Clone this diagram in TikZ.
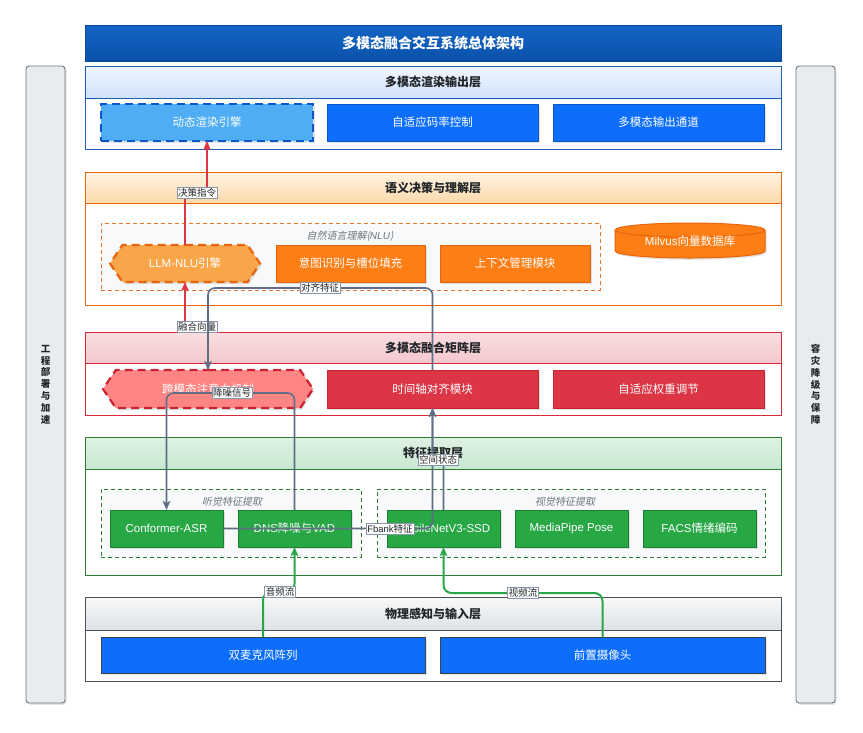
\documentclass[tikz,border=0pt]{standalone}
\usepackage{fontspec}
\setmainfont{Noto Sans CJK SC}
\newfontfamily\lat{Liberation Sans}
\newfontfamily\latit{Liberation Sans Italic}
\newfontfamily\cjkit{Noto Sans CJK SC}[FakeSlant=0.2]
\usetikzlibrary{shapes.symbols,shadows,arrows.meta}
\definecolor{ttop}{HTML}{1464C6}
\definecolor{tbot}{HTML}{0A52AA}
\definecolor{tbor}{HTML}{0A4A9A}
\definecolor{bl}{HTML}{0D6EFD}
\definecolor{blb}{HTML}{0A58CA}
\definecolor{lbl}{HTML}{4FADF5}
\definecolor{blc}{HTML}{1A5FB4}
\definecolor{org}{HTML}{FD7E14}
\definecolor{orgb}{HTML}{E8650F}
\definecolor{lorg}{HTML}{F9A64B}
\definecolor{rd}{HTML}{DC3545}
\definecolor{rdb}{HTML}{C82333}
\definecolor{lrd}{HTML}{FF8585}
\definecolor{rdc}{HTML}{D92B37}
\definecolor{gr}{HTML}{28A745}
\definecolor{grb}{HTML}{1E7E34}
\definecolor{grc}{HTML}{2E7D32}
\definecolor{gy}{HTML}{495057}
\definecolor{gyd}{HTML}{3A4350}
\definecolor{side}{HTML}{E9ECEF}
\definecolor{sideb}{HTML}{6C757D}
\definecolor{ln}{HTML}{5F6E84}
\definecolor{grp}{HTML}{F8F9FA}
\definecolor{txt}{HTML}{212529}
\definecolor{labb}{HTML}{8A96A8}
\begin{document}
\begin{tikzpicture}[x=1pt,y=-1pt,
  every node/.style={inner sep=0pt, outer sep=0pt},
  sh/.style={drop shadow={opacity=0.22, shadow xshift=1.6pt, shadow yshift=-1.8pt}},
  box/.style={draw, line width=1pt, text=white, sh, minimum height=37pt,
    font=\fontsize{11.5}{13}\selectfont},
  dbox/.style={box, line width=2.2pt, dash pattern=on 8pt off 5pt},
  hexa/.style={signal, signal to=east and west, signal pointer angle=112},
  layer/.style={draw, line width=1pt, fill=white, minimum width=696pt},
  head/.style={draw, line width=1pt, minimum width=696pt, text=txt,
    font=\fontsize{12}{14}\selectfont\bfseries},
  grpbox/.style={draw, line width=0.9pt, fill=grp, dash pattern=on 4pt off 3pt},
  grplab/.style={text=sideb, font=\fontsize{10}{12}\cjkit},
  sidebar/.style={draw=sideb, fill=side, line width=0.9pt, rounded corners=3pt, sh,
    minimum width=39pt, minimum height=637pt},
  sidetxt/.style={align=center, text=txt, font=\fontsize{9.5}{11.8}\selectfont\bfseries},
  redln/.style={draw=rd, line width=1.5pt, -{Stealth[length=9pt,width=7.5pt,inset=2pt]}},
  grayln/.style={draw=ln, line width=1.6pt, rounded corners=7pt, -{Stealth[length=9pt,width=7.5pt,inset=2pt]}},
  greenln/.style={draw=gr, line width=2pt, rounded corners=8pt, -{Stealth[length=9pt,width=7.5pt,inset=2pt]}},
  lab/.style={draw=labb, line width=0.6pt, fill=white, text=txt, inner xsep=1.2pt, inner ysep=1pt,
    font=\fontsize{9.5}{11}\selectfont}
]
\useasboundingbox (0,0) rectangle (863,732);
\fill[white] (0,0) rectangle (863,732);

% side bars
\node[sidebar] (lside) at (45.5,384.5) {};
\node[sidetxt] (lsidet) at (45.5,384.5) {工\\程\\部\\署\\与\\加\\速};
\node[sidebar] (rside) at (815.5,384.5) {};
\node[sidetxt] (rsidet) at (815.5,384.5) {容\\灾\\降\\级\\与\\保\\障};

% title
\node[draw=tbor, line width=1pt, top color=ttop, bottom color=tbot, minimum width=696pt, minimum height=36pt,
  text=white, font=\fontsize{14}{16}\selectfont\bfseries] (title) at (433,43) {多模态融合交互系统总体架构};

% ===== output layer
\node[layer, draw=blc, minimum height=83pt] (Lout) at (433,107.5) {};
\node[head, draw=blc, top color={rgb,255:red,240;green,246;blue,255}, bottom color={rgb,255:red,208;green,226;blue,251}, minimum height=32pt] (Hout) at (433,82) {多模态渲染输出层};
\node[dbox, draw=blb, fill=lbl, minimum width=212pt] (dyn) at (207,122.5) {动态渲染引擎};
\node[box, draw=blb, fill=bl, minimum width=211pt] (rate) at (432.5,122.5) {自适应码率控制};
\node[box, draw=blb, fill=bl, minimum width=211pt] (outc) at (658.5,122.5) {多模态输出通道};

% ===== semantic layer
\node[layer, draw=orgb, minimum height=133pt] (Lsem) at (433,238.5) {};
\node[head, draw=orgb, top color={rgb,255:red,255;green,244;blue,228}, bottom color={rgb,255:red,252;green,217;blue,170}, minimum height=31pt] (Hsem) at (433,187.5) {语义决策与理解层};
\node[grpbox, draw=orgb!90!white, minimum width=499pt, minimum height=67pt] (gnlu) at (350.5,256.5) {};
\node[grplab] (gnlut) at (350,236) {自然语言理解({\latit NLU})};
\node[hexa, dbox, draw=orgb, fill=lorg, minimum width=150pt] (llm) at (185,263.5) {{\lat LLM-NLU}引擎};
\node[box, draw=orgb, fill=org, minimum width=149pt] (intent) at (350.5,263.5) {意图识别与槽位填充};
\node[box, draw=orgb, fill=org, minimum width=150pt] (ctx) at (515,263.5) {上下文管理模块};
% milvus cylinder
\node[minimum width=150pt, minimum height=35pt] (milvus) at (690,240.5) {};
\draw[orgb, fill=org, line width=1pt, sh] (615,230) -- (615,251) arc[start angle=180, end angle=360, x radius=75pt, y radius=7pt] -- (765,230) arc[start angle=0, end angle=180, x radius=75pt, y radius=7pt] -- cycle;
\draw[orgb, line width=1pt] (615,230) arc[start angle=180, end angle=360, x radius=75pt, y radius=7pt];
\node[text=white, font=\fontsize{11.5}{13}\selectfont] (milvust) at (690,241) {{\lat Milvus}向量数据库};

% ===== fusion layer
\node[layer, draw=rdc, minimum height=83pt] (Lfus) at (433,373.5) {};
\node[head, draw=rdc, top color={rgb,255:red,250;green,222;blue,225}, bottom color={rgb,255:red,243;green,200;blue,205}, minimum height=31pt] (Hfus) at (433,347.5) {多模态融合矩阵层};
\node[hexa, dbox, draw=rdb, fill=lrd, minimum width=210pt, minimum height=38pt] (cross) at (208,389) {跨模态注意力机制};
\node[box, draw=rdb, fill=rd, minimum width=211pt, minimum height=38pt] (time) at (432.5,389) {时间轴对齐模块};
\node[box, draw=rdb, fill=rd, minimum width=211pt, minimum height=38pt] (weight) at (658.5,389) {自适应权重调节};

% ===== feature layer
\node[layer, draw=grc, minimum height=138pt] (Lfea) at (433,506) {};
\node[head, draw=grc, top color={rgb,255:red,222;green,242;blue,227}, bottom color={rgb,255:red,200;green,232;blue,208}, minimum height=32pt] (Hfea) at (433,453) {特征提取层};
\node[grpbox, draw=grc, minimum width=260pt, minimum height=68pt] (gaud) at (231,523) {};
\node[grplab] (gaudt) at (232,502) {听觉特征提取};
\node[grpbox, draw=grc, minimum width=388pt, minimum height=68pt] (gvis) at (571,523) {};
\node[grplab] (gvist) at (565,502) {视觉特征提取};
\node[box, draw=grb, fill=gr, minimum width=113pt] (conf) at (166.5,528.5) {\lat Conformer-ASR};
\node[box, draw=grb, fill=gr, minimum width=113pt] (dns) at (294.5,528.5) {{\lat DNS}降噪与{\lat VAD}};
\node[box, draw=grb, fill=gr, minimum width=113pt] (mob) at (443.5,528.5) {\lat MobileNetV3-SSD};
\node[box, draw=grb, fill=gr, minimum width=113pt] (pose) at (571.5,528.5) {\lat MediaPipe Pose};
\node[box, draw=grb, fill=gr, minimum width=113pt] (facs) at (699.5,528.5) {{\lat FACS}情绪编码};

% ===== physical layer
\node[layer, draw=gy, minimum height=84pt] (Lphy) at (433,639) {};
\node[head, draw=gy, top color={rgb,255:red,248;green,249;blue,250}, bottom color={rgb,255:red,222;green,226;blue,230}, minimum height=33pt] (Hphy) at (433,613.5) {物理感知与输入层};
\node[box, draw=gyd, fill=bl, minimum width=324pt, minimum height=36pt] (mic) at (263,655) {双麦克风阵列};
\node[box, draw=gyd, fill=bl, minimum width=325pt, minimum height=36pt] (cam) at (602.5,655) {前置摄像头};

% ===== connectors
\draw[redln] (llm.north) |- ([yshift=-51pt]dyn.south) -- (dyn.south);
\node[lab] (l1) at (197,193) {决策指令};
\draw[redln] (cross.north) |- ([yshift=-45pt]llm.south) -- (llm.south);
\node[lab] (l2) at (197,327) {融合向量};
\draw[grayln] (time.north) |- ([yshift=82pt]cross.north) -- (cross.north);
\node[lab] (l3) at (320,288) {对齐特征};
\draw[grayln] (dns.north) |- ([yshift=117pt]conf.north) -- (conf.north);
\node[lab] (l4) at (232,393) {降噪信号};
\draw[grayln] (conf.east) -| (time.south);
\node[lab] (l5) at (390,528.5) {{\lat Fbank}特征};
\draw[grayln] (mob.north) |- ([yshift=-52pt]time.south) -- (time.south);
\node[lab] (l6) at (438,460) {空间状态};
\draw[greenln] (mic.north) |- ([yshift=-45pt]dns.south) -- (dns.south);
\node[lab] (l7) at (280,592) {音频流};
\draw[greenln] (cam.north) |- ([yshift=-46pt]mob.south) -- (mob.south);
\node[lab] (l8) at (523,593) {视频流};
\end{tikzpicture}
\end{document}
